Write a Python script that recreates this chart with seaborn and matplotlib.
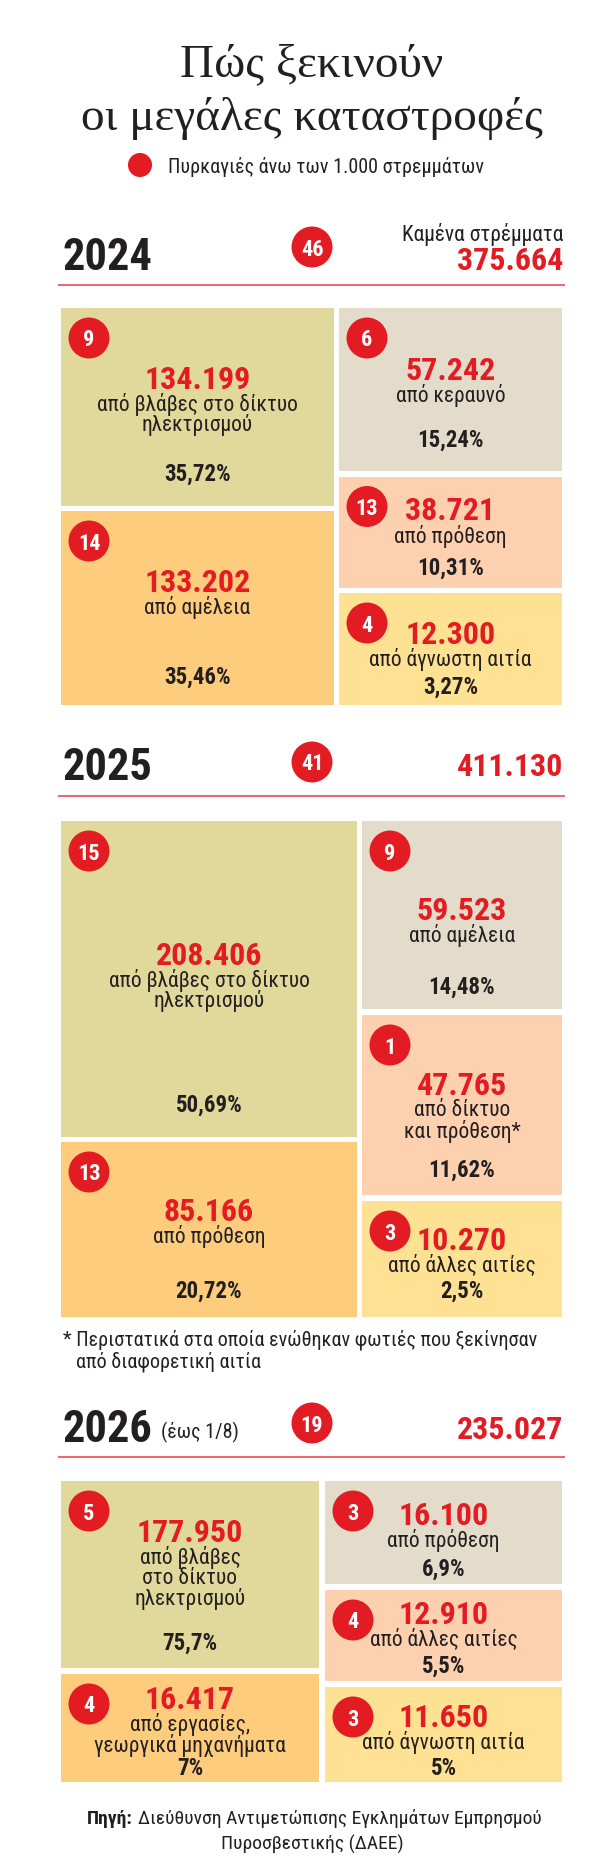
import pandas as pd
import matplotlib
matplotlib.use("Agg")
import matplotlib.pyplot as plt
import seaborn as sns

sns.set_theme(style="white")
plt.rcParams["font.family"] = ["Roboto Condensed", "DejaVu Sans"]

W, H = 600, 1868
RED = "#e31b23"
LINE_RED = "#ec4a52"
DARK = "#231f20"
CELL_COLORS = ["#e0d99b", "#fdcd7d", "#e3dcca", "#fdd0b0", "#fee193"]

# ---- data (cell order: left top, left bottom, right top, right middle, right bottom)
years = ["2024", "2025", "2026"]
year_notes = ["", "", "(έως 1/8)"]
fires_total = [46, 41, 19]
burned_total = [375664, 411130, 235027]

area_2024 = [134199, 133202, 57242, 38721, 12300]
fires_2024 = [9, 14, 6, 13, 4]
share_2024 = ["35,72%", "35,46%", "15,24%", "10,31%", "3,27%"]
cause_2024 = ["από βλάβες στο δίκτυο\nηλεκτρισμού", "από αμέλεια", "από κεραυνό",
              "από πρόθεση", "από άγνωστη αιτία"]

area_2025 = [208406, 85166, 59523, 47765, 10270]
fires_2025 = [15, 13, 9, 1, 3]
share_2025 = ["50,69%", "20,72%", "14,48%", "11,62%", "2,5%"]
cause_2025 = ["από βλάβες στο δίκτυο\nηλεκτρισμού", "από πρόθεση", "από αμέλεια",
              "από δίκτυο\nκαι πρόθεση*", "από άλλες αιτίες"]

area_2026 = [177950, 16417, 16100, 12910, 11650]
fires_2026 = [5, 4, 3, 4, 3]
share_2026 = ["75,7%", "7%", "6,9%", "5,5%", "5%"]
cause_2026 = ["από βλάβες\nστο δίκτυο\nηλεκτρισμού", "από εργασίες,\nγεωργικά μηχανήματα",
              "από πρόθεση", "από άλλες αιτίες", "από άγνωστη αιτία"]

areas = [area_2024, area_2025, area_2026]
fires = [fires_2024, fires_2025, fires_2026]
shares = [share_2024, share_2025, share_2026]
causes = [cause_2024, cause_2025, cause_2026]

# ---- layout (pixels from top-left)
panels = [
    dict(top=308, bottom=705, left=(61, 334), right=(339, 562), left_h=[198, 194], right_h=[163, 111, 112]),
    dict(top=821, bottom=1317, left=(61, 357), right=(362, 562), left_h=[316, 175], right_h=[188, 180, 116]),
    dict(top=1481, bottom=1782, left=(61, 319), right=(325, 562), left_h=[187, 108], right_h=[103, 91, 95]),
]
# (value offset, percent offset) from the top of each cell
text_pos = [
    [(69, 164), (69, 164), (60, 130), (32, 89), (39, 92)],
    [(132, 282), (67, 147), (87, 164), (68, 153), (37, 88)],
    [(49, 160), (23, 92), (32, 86), (22, 74), (28, 79)],
]
year_y = [253, 763, 1425]
badge_y = [247, 762, 1423]
total_y = [258, 764, 1427]
line_y = [285, 796, 1457]


def fmt(v):
    return f"{v:,}".replace(",", ".")


fig = plt.figure(figsize=(W / 100, H / 100), dpi=100, facecolor="white")


def column_axes(x0, x1, top, bottom, heights):
    n = len(heights)
    gap = (bottom - top - sum(heights)) / (n - 1)
    hspace = gap / (sum(heights) / n)
    gs = fig.add_gridspec(n, 1, left=x0 / W, right=x1 / W, top=1 - top / H,
                          bottom=1 - bottom / H, height_ratios=heights, hspace=hspace)
    return [fig.add_subplot(gs[i, 0]) for i in range(n)]


ax = fig.add_axes([0, 0, 1, 1], zorder=5)

# title + legend
serif = ["Liberation Serif", "DejaVu Serif"]
ax.text(312, 60, "Πώς ξεκινούν", ha="center", va="center_baseline", fontsize=34,
        family=serif, color=DARK)
ax.text(312, 114, "οι μεγάλες καταστροφές", ha="center", va="center_baseline", fontsize=34,
        family=serif, color=DARK)
ax.text(168, 165, "Πυρκαγιές άνω των 1.000 στρεμμάτων", ha="left", va="center_baseline",
        fontsize=14.5, color=DARK)

badges = [dict(x=140, y=165, n="", s=300)]

for k, year in enumerate(years):
    p = panels[k]
    cells = column_axes(*p["left"], p["top"], p["bottom"], p["left_h"]) + \
        column_axes(*p["right"], p["top"], p["bottom"], p["right_h"])

    # header
    ax.text(62, year_y[k], year, ha="left", va="center_baseline", fontsize=32,
            fontweight="bold", color=DARK)
    if year_notes[k]:
        ax.text(161, year_y[k] + 5, year_notes[k], ha="left", va="center_baseline",
                fontsize=14.5, color=DARK)
    badges.append(dict(x=312, y=badge_y[k], n=str(fires_total[k]), s=870))
    ax.text(563, total_y[k], fmt(burned_total[k]), ha="right", va="center_baseline",
            fontsize=23, fontweight="bold", color=RED)
    if k == 0:
        ax.text(563, 232, "Καμένα στρέμματα", ha="right", va="center_baseline",
                fontsize=15.5, color=DARK)
    ax.hlines(line_y[k], 58, 565, color=LINE_RED, lw=1.2)

    # cells
    for i, cell in enumerate(cells):
        cell.set_facecolor(CELL_COLORS[i])
        cell.set_xticks([])
        cell.set_yticks([])
        for sp in cell.spines.values():
            sp.set_visible(False)
        b = cell.get_position()
        x0, x1 = b.x0 * W, b.x1 * W
        top = (1 - b.y1) * H
        xc = (x0 + x1) / 2
        vy, py = text_pos[k][i]
        badges.append(dict(x=x0 + 28, y=top + 30, n=str(fires[k][i]), s=870))
        ax.text(xc, top + vy, fmt(areas[k][i]), ha="center", va="center_baseline",
                fontsize=23, fontweight="bold", color=RED)
        for j, line in enumerate(causes[k][i].split("\n")):
            ax.text(xc, top + vy + 25 + 21 * j, line, ha="center", va="center_baseline",
                    fontsize=15.5, color=DARK)
        ax.text(xc, top + py, shares[k][i], ha="center", va="center_baseline",
                fontsize=16.5, fontweight="bold", color=DARK)

badges = pd.DataFrame(badges)
sns.scatterplot(data=badges, x="x", y="y", size="s", sizes=(300, 870), color=RED,
                edgecolor="none", legend=False, ax=ax, zorder=3)
for _, r in badges.iterrows():
    if r["n"]:
        ax.text(r["x"], r["y"], r["n"], ha="center", va="center_baseline", fontsize=16,
                fontweight="bold", color="white", zorder=4)

# footnote + source
ax.text(63, 1338, "* Περιστατικά στα οποία ενώθηκαν φωτιές που ξεκίνησαν", ha="left",
        va="center_baseline", fontsize=14.5, color=DARK)
ax.text(76, 1359, "από διαφορετική αιτία", ha="left", va="center_baseline", fontsize=14.5,
        color=DARK)
ax.text(133, 1817, "Πηγή:", ha="right", va="center_baseline", fontsize=14,
        fontweight="bold", color=DARK)
ax.text(138, 1817, "Διεύθυνση Αντιμετώπισης Εγκλημάτων Εμπρησμού", ha="left",
        va="center_baseline", fontsize=14, color=DARK)
ax.text(312, 1842, "Πυροσβεστικής (ΔΑΕΕ)", ha="center", va="center_baseline",
        fontsize=14, color=DARK)

ax.set_xlim(0, W)
ax.set_ylim(H, 0)
ax.axis("off")

fig.savefig("out.png", dpi=100, facecolor="white")
